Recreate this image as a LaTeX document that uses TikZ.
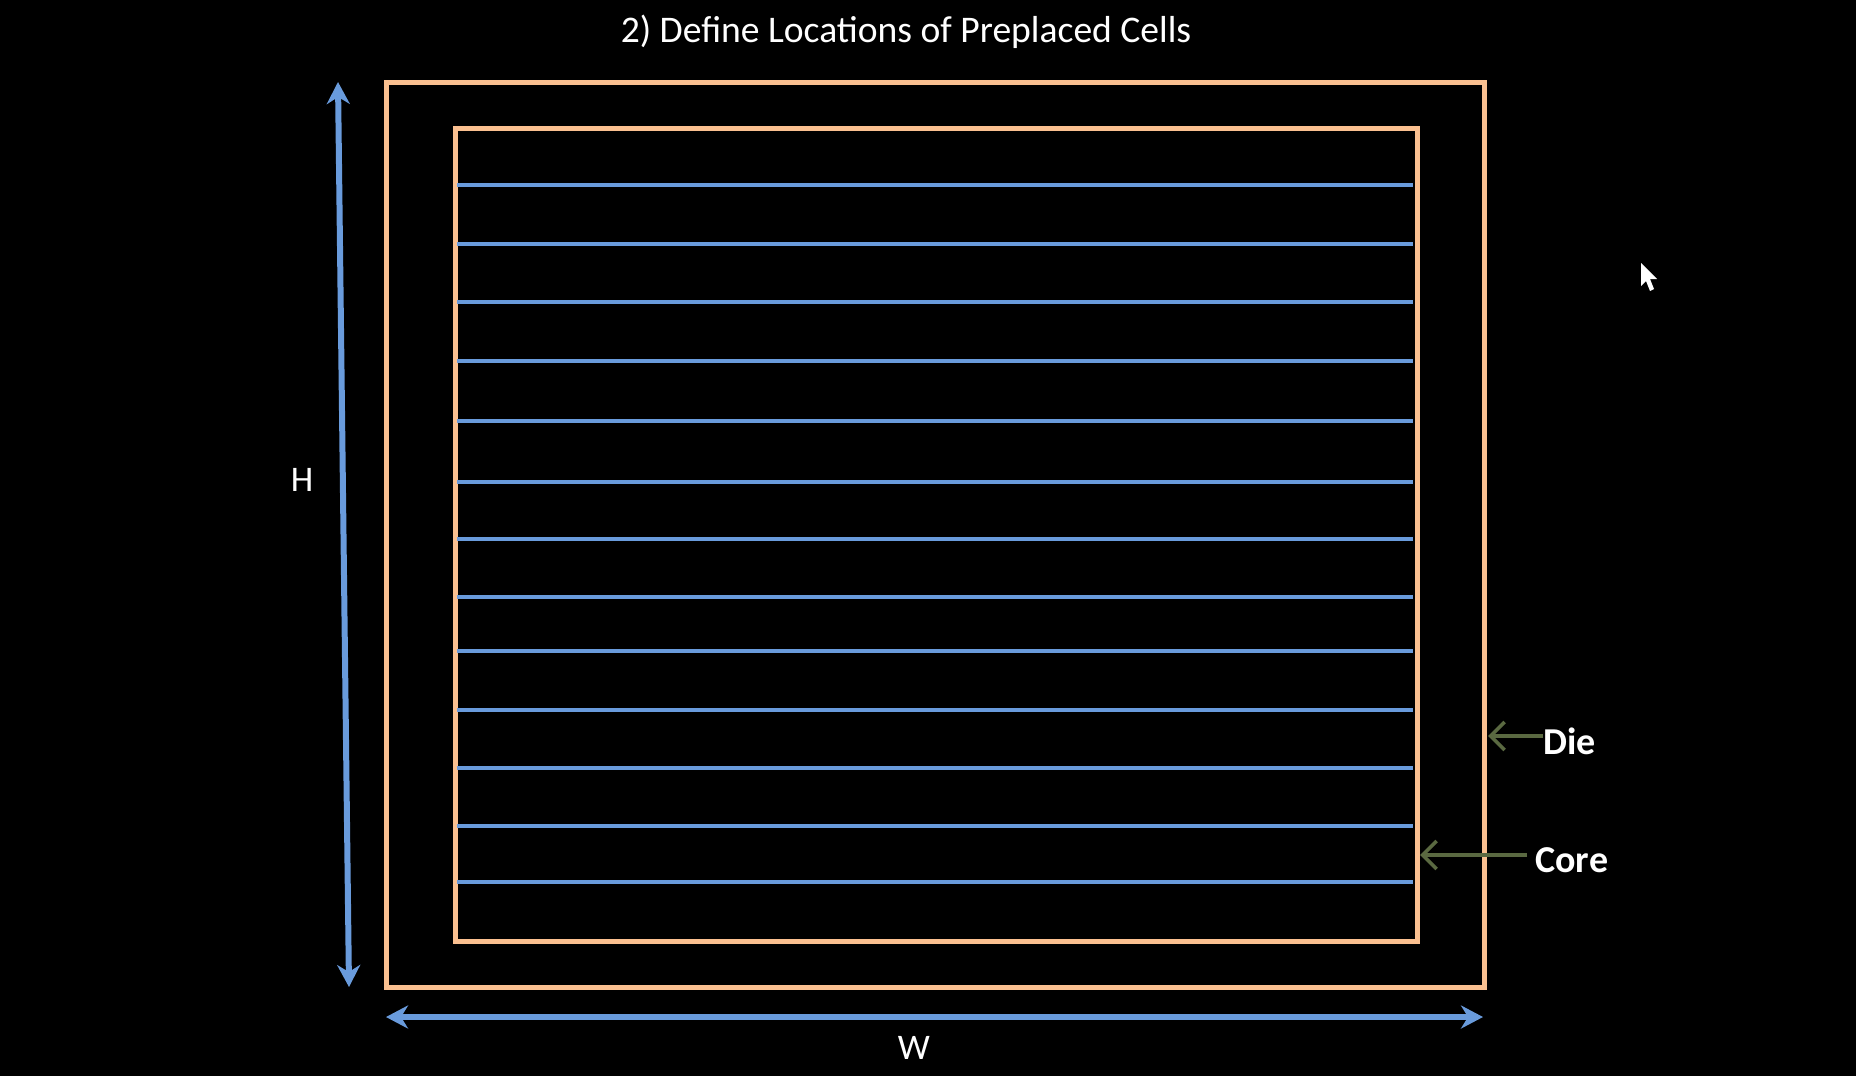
\documentclass[tikz,border=0pt]{standalone}
\usepackage{fontspec}
\setmainfont{Carlito}
\usetikzlibrary{arrows.meta,positioning}
\definecolor{diecolor}{RGB}{250,192,144}
\definecolor{rowcolor}{RGB}{105,155,220}
\definecolor{pointcolor}{RGB}{90,105,65}

\tikzset{
  outline/.style={draw=diecolor,line width=2.5pt},
  siterow/.style={draw=rowcolor,line width=2pt},
  dimarrow/.style={draw=rowcolor,line width=3pt,
    {Stealth[length=11pt,width=11.5pt,inset=3.5pt]}-{Stealth[length=11pt,width=11.5pt,inset=3.5pt]}},
  pointer/.style={draw=pointcolor,line width=1.8pt,-{Straight Barb[length=7pt,width=14pt]}},
  tag/.style={text=white,font=\bfseries\fontsize{19}{22}\selectfont,inner sep=0pt,anchor=west},
  dimtag/.style={text=white,font=\fontsize{18}{21}\selectfont,inner sep=0pt}
}

\begin{document}
\begin{tikzpicture}[x=0.5pt,y=-0.5pt]
    % screen
    \fill[black] (0,0) rectangle (1856,1076);
    \useasboundingbox (0,0) rectangle (1856,1076);

    \node[text=white,font=\fontsize{18.8}{22}\selectfont] (title) at (906,32) {2) Define Locations of Preplaced Cells};

    % die and core
    \draw[outline] (386,82) rectangle (1484,987);
    \draw[outline] (455,128) rectangle (1417,941);

    % standard cell rows
    \foreach \y in {185,244,302,361,421,482,539,597,651,710,768,826,882}
        \draw[siterow] (457,\y) -- (1413,\y);

    % dimensions
    \coordinate (htop) at (338,82);
    \coordinate (hbot) at (349,987);
    \coordinate (wleft) at (386,1017);
    \coordinate (wright) at (1483,1017);
    \draw[dimarrow] (htop) -- (hbot);
    \draw[dimarrow] (wleft) -- (wright);
    \node[dimtag] (hlabel) at (302,480) {H};
    \node[dimtag] (wlabel) at (914,1048) {W};

    % labels
    \node[tag] (die) at (1543,741) {Die};
    \node[tag] (core) at (1535,860) {Core};
    \coordinate (dietip) at (1488,736);
    \coordinate (coretip) at (1420,855);
    \draw[pointer] (die.west |- dietip) -- (dietip);
    \draw[pointer] ([xshift=-4pt]core.west |- coretip) -- (coretip);

    % mouse pointer
    \fill[white] (1641,263) -- (1641,286) -- (1646,281) -- (1650,291) -- (1654,289) -- (1650,279) -- (1657,279) -- cycle;
\end{tikzpicture}
\end{document}
